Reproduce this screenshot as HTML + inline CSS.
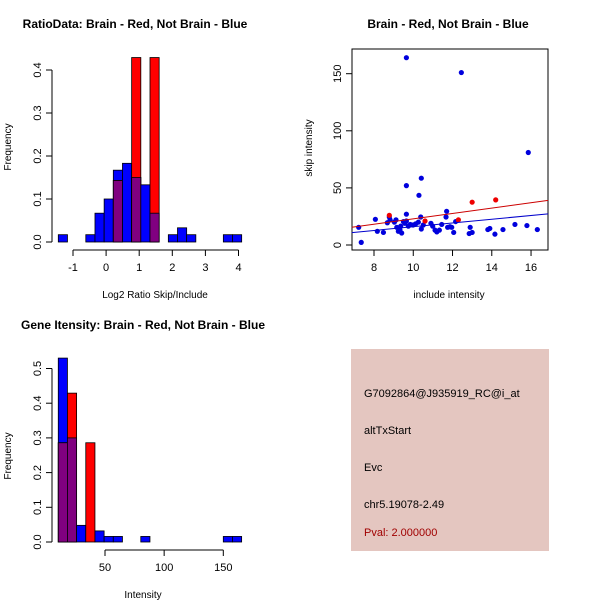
<!DOCTYPE html>
<html><head><meta charset="utf-8">
<style>
body{margin:0;background:#fff;}
svg{display:block;font-family:"Liberation Sans",sans-serif;}
</style></head>
<body>
<svg id="c" width="600" height="600" xmlns="http://www.w3.org/2000/svg">
<rect width="600" height="600" fill="#fff"/>
<text x="135" y="28" text-anchor="middle" font-size="12" font-weight="bold">RatioData: Brain - Red, Not Brain - Blue</text>
<text x="448" y="28" text-anchor="middle" font-size="12" font-weight="bold">Brain - Red, Not Brain - Blue</text>
<text x="143" y="329" text-anchor="middle" font-size="12" font-weight="bold">Gene Itensity: Brain - Red, Not Brain - Blue</text>
<text x="155" y="298" text-anchor="middle" font-size="10">Log2 Ratio Skip/Include</text>
<text x="449" y="298" text-anchor="middle" font-size="10">include intensity</text>
<text x="143" y="598" text-anchor="middle" font-size="10">Intensity</text>
<text transform="translate(11,147) rotate(-90)" text-anchor="middle" font-size="10">Frequency</text>
<text transform="translate(312,148) rotate(-90)" text-anchor="middle" font-size="10">skip intensity</text>
<text transform="translate(11,456) rotate(-90)" text-anchor="middle" font-size="10">Frequency</text>
<rect x="351" y="349" width="198" height="202" fill="#e4c6c0"/>
<text x="364" y="397" font-size="11">G7092864@J935919_RC@i_at</text>
<text x="364" y="434" font-size="11">altTxStart</text>
<text x="364" y="471" font-size="11">Evc</text>
<text x="364" y="508" font-size="11">chr5.19078-2.49</text>
<text x="364" y="536" font-size="11" fill="#a00000">Pval: 2.000000</text>
<g id="g1"></g>
<g id="g2"></g>
<g id="g3"></g>
</svg>
<script>
// Ratio histogram data
const ratioBinStart = -1.444, ratioBinWidth = 0.277;
const ratioBlue = [0.017,0,0,0.017,0.067,0.1,0.167,0.183,0.15,0.133,0.067,0,0.017,0.033,0.017,0,0,0,0.017,0.017];
const ratioRed  = [0,0,0,0,0,0,0.143,0,0.429,0,0.429,0,0,0,0,0,0,0,0,0];
const ratioXTicks = [-1,0,1,2,3,4];
const ratioYTicks = ["0.0","0.1","0.2","0.3","0.4"];
// Intensity histogram data
const intBinStart = 10.5, intBinWidth = 7.75;
const intBlue = [0.53,0.30,0.048,0,0.032,0.016,0.016,0,0,0.016,0,0,0,0,0,0,0,0,0.016,0.016];
const intRed  = [0.286,0.429,0,0.286,0,0,0,0,0,0,0,0,0,0,0,0,0,0,0,0];
const intXTicks = [50,100,150];
const intYTicks = ["0.0","0.1","0.2","0.3","0.4","0.5"];
// Scatter data
const blueX = [7.22,7.35,8.07,8.17,8.48,8.68,8.78,8.82,9.04,9.12,9.16,9.24,9.32,9.41,9.36,9.5,9.57,9.65,9.65,9.65,9.65,9.75,9.85,9.99,10.12,10.26,10.29,10.41,10.38,10.41,10.51,10.9,10.99,11.11,11.2,11.33,11.45,11.67,11.7,11.75,11.87,11.96,12.06,12.16,12.45,12.85,12.9,13.0,13.8,13.9,14.16,14.57,15.18,15.79,15.86,16.32];
const blueY = [15.5,2.3,22.5,12,11,19.5,24.5,22,20,22,15.5,12,13.5,10.5,16.5,20.5,19,21,27,52,164,16.5,18,17.5,18.5,20,43.5,58.5,24.5,14,17.5,19,16.5,13,11.5,13,18,24.5,29.5,15.5,16,15.5,11,20.5,151,10,15.5,11,13.5,14.5,9.5,13.5,18,17,81,13.5];
const redX = [8.78,10.6,12.3,13.0,14.2];
const redY = [26,21,22,37.5,39.5];
const redLine = [-0.6,2.35];   // intercept, slope
const blueLine = [-0.4,1.64];
const scXTicks = [8,10,12,14,16];
const scYTicks = [0,50,100,150];

const NS="http://www.w3.org/2000/svg";
function mk(parent,tag,attrs){const e=document.createElementNS(NS,tag);for(const k in attrs)e.setAttribute(k,attrs[k]);parent.appendChild(e);return e;}

function hist(g,cfg){
  const {start,w,blue,red,xs,ys,xTicks,yTicks,yStep,axisX,axisY,xAxisFrom,xAxisTo} = cfg;
  for(let i=0;i<blue.length;i++){
    const x0=xs(start+i*w), x1=xs(start+(i+1)*w);
    if(blue[i]>0){const r=mk(g,'rect',{x:x0,y:ys(blue[i]),width:x1-x0,height:ys(0)-ys(blue[i]),fill:'#0000ff',stroke:'#000','stroke-width':0.8});
      
      }
    if(red[i]>0){const r=mk(g,'rect',{x:x0,y:ys(red[i]),width:x1-x0,height:ys(0)-ys(red[i]),fill:'#ff0000',stroke:'#000','stroke-width':0.8});
      
      }
    if(blue[i]>0&&red[i]>0){const m=Math.min(blue[i],red[i]);const r=mk(g,'rect',{x:x0,y:ys(m),width:x1-x0,height:ys(0)-ys(m),fill:'#800080',stroke:'#000','stroke-width':0.8});
      
      }
  }
  mk(g,'line',{x1:xs(xAxisFrom),x2:xs(xAxisTo),y1:axisY,y2:axisY,stroke:'#000'});
  xTicks.forEach(t=>{mk(g,'line',{x1:xs(t),x2:xs(t),y1:axisY,y2:axisY+6,stroke:'#000'});
    const tx=mk(g,'text',{x:xs(t),y:axisY+21,'text-anchor':'middle','font-size':11});tx.textContent=t;
    
    });
  mk(g,'line',{x1:axisX,x2:axisX,y1:ys(0),y2:ys((yTicks.length-1)*yStep),stroke:'#000'});
  yTicks.forEach((t,i)=>{const y=ys(i*yStep);mk(g,'line',{x1:axisX-6,x2:axisX,y1:y,y2:y,stroke:'#000'});
    const tx=mk(g,'text',{transform:`translate(${axisX-11},${y}) rotate(-90)`,'text-anchor':'middle','font-size':11});tx.textContent=t;
    
    });
}
hist(document.getElementById('g1'),{start:ratioBinStart,w:ratioBinWidth,blue:ratioBlue,red:ratioRed,
  xs:v=>73+(v+1)*33.1, ys:v=>242-v*430, xTicks:ratioXTicks,yTicks:ratioYTicks,yStep:0.1,axisX:52,axisY:250,xAxisFrom:-1,xAxisTo:4});
hist(document.getElementById('g3'),{start:intBinStart,w:intBinWidth,blue:intBlue,red:intRed,
  xs:v=>105+(v-50)*1.183, ys:v=>542-v*347, xTicks:intXTicks,yTicks:intYTicks,yStep:0.1,axisX:52,axisY:550,xAxisFrom:50,xAxisTo:150});

(function(){
  const g=document.getElementById('g2');
  const xs=v=>374+(v-8)*19.63, ys=v=>245-v*1.142;
  const box=mk(g,'rect',{x:352,y:49,width:196,height:201,fill:'none',stroke:'#000'});
  
  
  scXTicks.forEach(t=>{mk(g,'line',{x1:xs(t),x2:xs(t),y1:250,y2:256,stroke:'#000'});
    const tx=mk(g,'text',{x:xs(t),y:271,'text-anchor':'middle','font-size':11});tx.textContent=t;
    
    });
  scYTicks.forEach(t=>{const y=ys(t);mk(g,'line',{x1:346,x2:352,y1:y,y2:y,stroke:'#000'});
    const tx=mk(g,'text',{transform:`translate(341,${y}) rotate(-90)`,'text-anchor':'middle','font-size':11});tx.textContent=t;
    
    });
  blueX.forEach((x,i)=>{const c=mk(g,'circle',{cx:xs(x),cy:ys(blueY[i]),r:2.6,fill:'#0000dd'});
    
    });
  redX.forEach((x,i)=>{const c=mk(g,'circle',{cx:xs(x),cy:ys(redY[i]),r:2.6,fill:'#ee0000'});
    
    });
  const x0=6.87,x1=16.87;
  [[redLine,'#cc0000','red-fit-line'],[blueLine,'#0000cc','blue-fit-line']].forEach(([L,col,nm])=>{
    const l=mk(g,'line',{x1:xs(x0),x2:xs(x1),y1:ys(L[0]+L[1]*x0),y2:ys(L[0]+L[1]*x1),stroke:col,'stroke-width':1});
    
    });
})();
</script>
</body></html>
